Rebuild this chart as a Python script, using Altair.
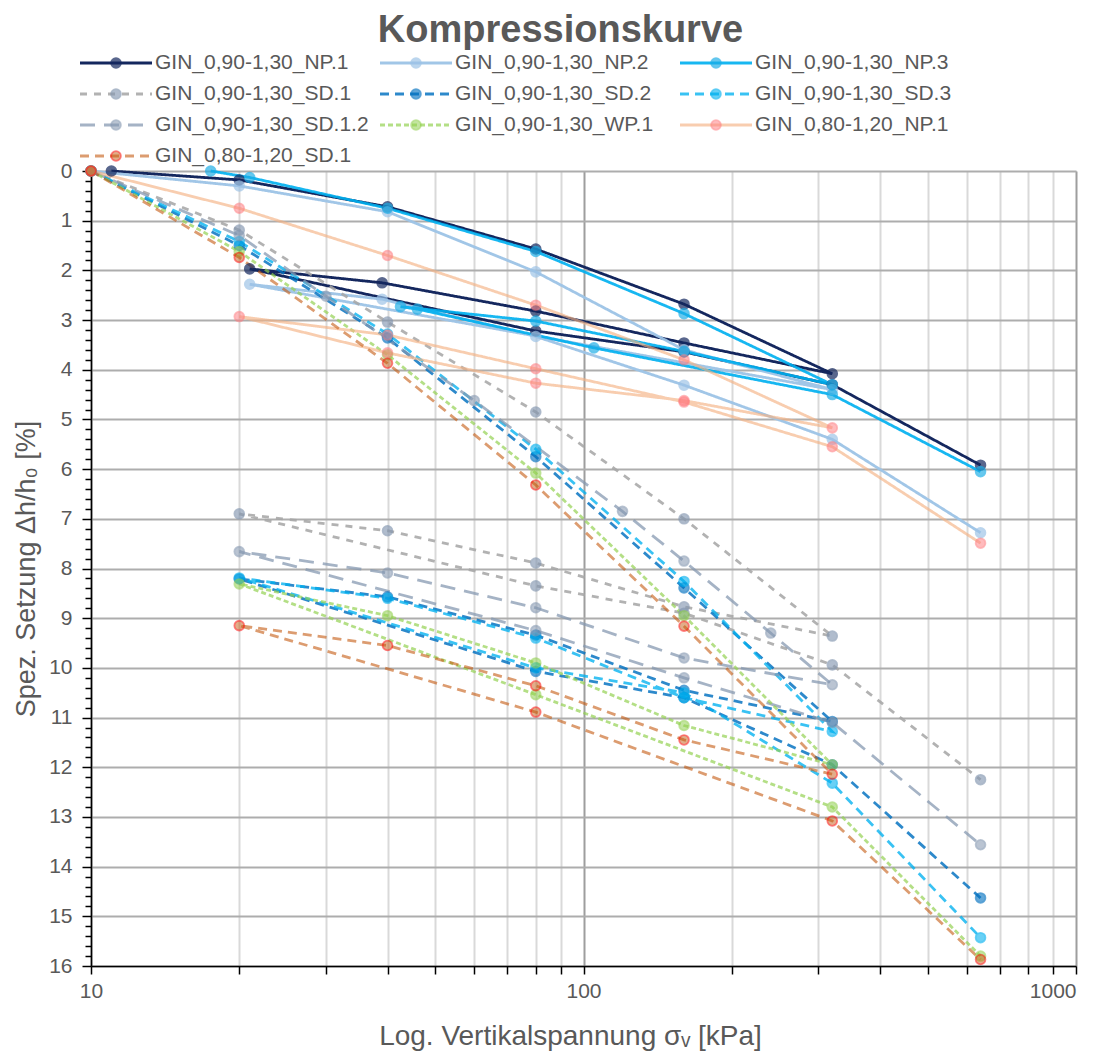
import altair as alt
import pandas as pd

SERIES = [
    "GIN_0,90-1,30_NP.1", "GIN_0,90-1,30_NP.2", "GIN_0,90-1,30_NP.3",
    "GIN_0,90-1,30_SD.1", "GIN_0,90-1,30_SD.2", "GIN_0,90-1,30_SD.3",
    "GIN_0,90-1,30_SD.1.2", "GIN_0,90-1,30_WP.1", "GIN_0,80-1,20_NP.1",
    "GIN_0,80-1,20_SD.1",
]

# stress [kPa] and specific settlement [%] per test
NP1_SIG = [11, 20, 40, 80, 160, 320, 160, 80, 39, 21, 80, 160, 320, 640]
NP1_S = [0, 0.18, 0.72, 1.57, 2.68, 4.08, 3.46, 2.82, 2.25, 1.97, 3.22, 3.64, 4.30, 5.92]

NP2_SIG = [10, 20, 40, 80, 160, 320, 21, 39, 80, 160, 320, 640]
NP2_S = [0, 0.30, 0.82, 2.03, 3.60, 4.40, 2.28, 2.58, 3.33, 4.31, 5.40, 7.28]

NP3_SIG = [17.5, 21, 40, 80, 160, 320, 160, 80, 42.5, 46, 105, 320, 640]
NP3_S = [0, 0.13, 0.75, 1.62, 2.87, 4.30, 3.63, 3.02, 2.73, 2.78, 3.56, 4.50, 6.05]

SD1_SIG = [10, 20, 40, 80, 160, 320, 160, 80, 40, 20, 80, 160, 320, 640]
SD1_S = [0, 1.19, 3.04, 4.85, 7.00, 9.36, 8.77, 7.89, 7.24, 6.90, 8.35, 8.90, 9.94, 12.25]

SD2_SIG = [10, 20, 40, 80, 160, 320, 160, 80, 40, 20, 80, 160, 320, 640]
SD2_S = [0, 1.50, 3.36, 5.75, 8.39, 11.08, 10.45, 9.34, 8.57, 8.21, 10.07, 10.60, 11.95, 14.63]

SD3_SIG = [10, 20, 40, 80, 160, 320, 160, 80, 40, 20, 80, 160, 320, 640]
SD3_S = [0, 1.42, 3.28, 5.60, 8.26, 11.28, 10.60, 9.40, 8.60, 8.19, 10.00, 10.50, 12.32, 15.43]

SD12_SIG = [10, 20, 30, 60, 120, 160, 240, 320, 160, 80, 40, 20, 80, 160, 320, 640]
SD12_S = [0, 1.30, 2.52, 4.62, 6.85, 7.85, 9.30, 10.34, 9.80, 8.79, 8.09, 7.66, 9.25, 10.20, 11.10, 13.56]

WP1_SIG = [10, 20, 40, 80, 160, 320, 160, 80, 40, 20, 80, 320, 640]
WP1_S = [0, 1.62, 3.70, 6.08, 8.95, 11.95, 11.16, 9.90, 8.95, 8.31, 10.54, 12.80, 15.80]

B_NP1_SIG = [10, 20, 40, 80, 160, 320, 160, 80, 40, 20, 40, 80, 160, 320, 640]
B_NP1_S = [0, 0.75, 1.70, 2.70, 3.80, 5.17, 4.62, 4.27, 3.66, 2.93, 3.30, 3.98, 4.65, 5.55, 7.49]

B_SD1_SIG = [10, 20, 40, 80, 160, 320, 160, 80, 40, 20, 80, 320, 640]
B_SD1_S = [0, 1.74, 3.87, 6.32, 9.16, 12.14, 11.45, 10.36, 9.55, 9.15, 10.89, 13.08, 15.87]

ALL_SIG = [NP1_SIG, NP2_SIG, NP3_SIG, SD1_SIG, SD2_SIG, SD3_SIG, SD12_SIG, WP1_SIG, B_NP1_SIG, B_SD1_SIG]
ALL_S = [NP1_S, NP2_S, NP3_S, SD1_S, SD2_S, SD3_S, SD12_S, WP1_S, B_NP1_S, B_SD1_S]

LINE_COLORS = ["#14275E", "#9DC3E6", "#00B0F0", "#A6A6A6", "#0070C0", "#00B0F0",
               "#8497B0", "#92D050", "#F4B183", "#C55A11"]
MARKER_FILL = ["#14275E", "#9DC3E6", "#1AACE6", "#8497B0", "#0070C0", "#00B0F0",
               "#8497B0", "#92D050", "#FF7C80", "#C55A11"]
MARKER_STROKE = ["#14275E", "#9DC3E6", "#1AACE6", "#8497B0", "#0070C0", "#00B0F0",
                 "#8497B0", "#92D050", "#FF7C80", "#FF0000"]
DASHES = [[1, 0], [1, 0], [1, 0], [7, 7], [9, 6], [9, 6], [15, 9], [5, 3], [1, 0], [9, 6]]
LINE_OPACITY = [1, 0.6, 1, 0.8, 1, 1, 0.6, 1, 0.6, 1]
MARKER_OPACITY = [1, 0.7, 1, 0.7, 1, 1, 0.7, 1, 0.6, 1]

X_TICKS = [10, 20, 30, 40, 50, 60, 70, 80, 90, 100, 200, 300, 400, 500, 600, 700, 800, 900, 1000]
Y_TICKS = [round(i * 0.2, 1) for i in range(81)]

rows = []
for name, sig, s in zip(SERIES, ALL_SIG, ALL_S):
    for i, (a, b) in enumerate(zip(sig, s)):
        rows.append({"series": name, "idx": i, "sigma": a, "s": b})
df = pd.DataFrame(rows)

# legend table: 3 columns, entries row by row
leg = pd.DataFrame({
    "series": SERIES,
    "col": [i % 3 for i in range(len(SERIES))],
    "row": [i // 3 for i in range(len(SERIES))],
})
leg["x0"] = leg["col"]
leg["x1"] = leg["col"] + 0.24
leg["xm"] = leg["col"] + 0.12
leg["xt"] = leg["col"] + 0.25

FONT = "Liberation Sans"
TXT = "#595959"
IS_INT = "abs(datum.value - round(datum.value)) < 0.01"
IS_DEC = "datum.value == 10 || datum.value == 100 || datum.value == 1000"

x_enc = alt.X(
    "sigma:Q",
    scale=alt.Scale(type="log", domain=[10, 1000], nice=False),
    axis=alt.Axis(
        values=X_TICKS, format=".0f",
        labelExpr="(" + IS_DEC + ") ? datum.label : ''",
        title="Log. Vertikalspannung σᵥ [kPa]",
        titleFont=FONT, titleFontSize=28, titleFontWeight="normal", titleColor=TXT, titlePadding=21,
        titleX=479, titleAlign="center", titleAnchor="start",
        labelFont=FONT, labelFontSize=21, labelColor=TXT, labelPadding=6, labelFlush=False,
        labelAlign={"condition": {"test": "datum.value == 1000", "value": "right"}, "value": "center"},
        domainColor="black", domainWidth=1.5, tickColor="black", tickWidth=1.5, tickSize=8,
        grid=True,
        gridColor={"condition": {"test": IS_DEC, "value": "#9E9E9E"}, "value": "#D9D9D9"},
        gridWidth=2,
    ),
)
y_enc = alt.Y(
    "s:Q",
    scale=alt.Scale(domain=[0, 16], reverse=True, nice=False, zero=False),
    axis=alt.Axis(
        values=Y_TICKS,
        labelExpr=IS_INT + " ? format(datum.value, 'd') : ''",
        title="Spez. Setzung Δh/h₀  [%]",
        titleFont=FONT, titleFontSize=27, titleFontWeight="normal", titleColor=TXT, titlePadding=8,
        labelFont=FONT, labelFontSize=21, labelColor=TXT, labelPadding=10,
        domainColor="black", domainWidth=1.5, tickColor="black", tickWidth=1.5,
        tickSize={"condition": {"test": IS_INT, "value": 9}, "value": 6},
        grid=True, gridColor="#ADADAD", gridWidth=2,
        gridOpacity={"condition": {"test": IS_INT, "value": 1}, "value": 0},
    ),
)

color_enc = alt.Color("series:N", scale=alt.Scale(domain=SERIES, range=LINE_COLORS), legend=None)
dash_enc = alt.StrokeDash("series:N", scale=alt.Scale(domain=SERIES, range=DASHES), legend=None)
op_enc = alt.Opacity("series:N", scale=alt.Scale(domain=SERIES, range=LINE_OPACITY), legend=None)
fill_enc = alt.Fill("series:N", scale=alt.Scale(domain=SERIES, range=MARKER_FILL), legend=None)
stroke_enc = alt.Stroke("series:N", scale=alt.Scale(domain=SERIES, range=MARKER_STROKE), legend=None)
fop_enc = alt.FillOpacity("series:N", scale=alt.Scale(domain=SERIES, range=MARKER_OPACITY), legend=None)
sop_enc = alt.StrokeOpacity("series:N", scale=alt.Scale(domain=SERIES, range=MARKER_OPACITY), legend=None)

lines = alt.Chart(df).mark_line(strokeWidth=2.8).encode(
    x=x_enc, y=y_enc, color=color_enc, strokeDash=dash_enc, opacity=op_enc,
    detail="series:N", order="idx:Q",
)
points = alt.Chart(df).mark_point(filled=True, size=95, strokeWidth=1.8).encode(
    x=x_enc, y=y_enc, fill=fill_enc, stroke=stroke_enc, fillOpacity=fop_enc, strokeOpacity=sop_enc,
)
main = alt.layer(lines, points)

# legend drawn with its own scales above the plot
lx = alt.Scale(domain=[0, 3], range=[-11, 889])
ly = alt.Scale(domain=[0, 3], range=[-108, -15])
leg_base = alt.Chart(leg).encode(y=alt.Y("row:Q", scale=ly, axis=None))
leg_lines = leg_base.mark_rule(strokeWidth=2.8).encode(
    x=alt.X("x0:Q", scale=lx, axis=None), x2="x1:Q",
    color=color_enc, strokeDash=dash_enc, opacity=op_enc,
)
leg_pts = leg_base.mark_point(filled=True, size=95, strokeWidth=1.8).encode(
    x=alt.X("xm:Q", scale=lx, axis=None),
    fill=fill_enc, stroke=stroke_enc, fillOpacity=fop_enc, strokeOpacity=sop_enc,
)
leg_txt = leg_base.mark_text(align="left", baseline="middle", font=FONT, fontSize=21, color=TXT).encode(
    x=alt.X("xt:Q", scale=lx, axis=None), text="series:N",
)
legend_layer = alt.layer(leg_lines, leg_pts, leg_txt)

chart = alt.layer(main, legend_layer).resolve_scale(x="independent", y="independent").properties(
    width=985, height=795,
    title=alt.TitleParams("Kompressionskurve", font=FONT, fontSize=38, fontWeight="bold",
                          color=TXT, anchor="middle", offset=2, dx=-23),
    autosize=alt.AutoSizeParams(type="none"),
    padding={"left": 83, "top": 163, "right": 21, "bottom": 87},
).configure_view(stroke=None).configure(background="white")

chart.save("out.html", embed_options={"renderer": "svg", "actions": False})
